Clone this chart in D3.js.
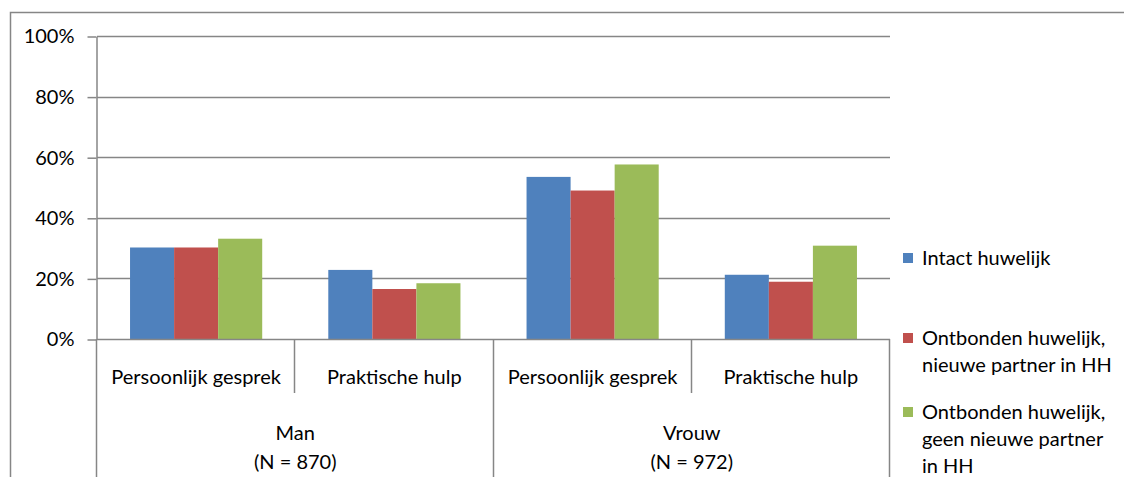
<!DOCTYPE html>
<html>
<head>
  <meta charset="utf-8">
  <title>Persoonlijk gesprek / Praktische hulp</title>
  <style>
    body {
      margin: 0;
      padding: 0;
      background: white;
      font-family: Lato, "Open Sans", sans-serif;
    }
    .grid line, .frame, .catline {
      stroke: #868686;
      stroke-width: 1.5;
      fill: none;
    }
    .axis path, .axis line {
      stroke: #868686;
      stroke-width: 1.5;
    }
    .axis text, .label, .legend text {
      fill: #000;
      font-size: 20px;
    }
  </style>
</head>
<body>
  <div id="chart"></div>

  <script src="https://d3js.org/d3.v7.min.js"></script>
  <script>

  // ####### DATA #######
  var genders = ["Man", "Vrouw"]
  var genderN = ["(N = 870)", "(N = 972)"]
  var helpTypes = ["Persoonlijk gesprek", "Praktische hulp"]
  var seriesNames = ["Intact huwelijk",
                     "Ontbonden huwelijk, nieuwe partner in HH",
                     "Ontbonden huwelijk, geen nieuwe partner in HH"]
  var legendLines = [["Intact huwelijk"],
                     ["Ontbonden huwelijk,", "nieuwe partner in HH"],
                     ["Ontbonden huwelijk,", "geen nieuwe partner", "in HH"]]
  // order: Man-gesprek, Man-hulp, Vrouw-gesprek, Vrouw-hulp
  var intact = [0.302, 0.228, 0.535, 0.212]
  var nieuwePartner = [0.302, 0.165, 0.490, 0.189]
  var geenPartner = [0.331, 0.184, 0.576, 0.308]
  var yTicks = [0, 0.2, 0.4, 0.6, 0.8, 1]
  var colors = ["#4F81BD", "#C0504D", "#9BBB59"]

  var seriesValues = [intact, nieuwePartner, geenPartner]

  var width = 1124,
      height = 477

  var svg = d3.select("#chart")
      .append("svg")
      .attr("width", width)
      .attr("height", height)

  // ####### OUTER CHART FRAME (runs off the picture right & bottom) #######
  svg.append("path")
      .attr("class", "frame")
      .attr("d", "M10.5," + (height + 5) + "V12.5H" + (width + 5))

  // ####### SCALES #######
  var cats = []
  genders.forEach(function (g) {
    helpTypes.forEach(function (h) { cats.push(g + "|" + h) })
  })

  var x0 = d3.scaleBand()
      .domain(cats)
      .range([97, 890])

  var x1 = d3.scaleBand()
      .domain(d3.range(seriesNames.length))
      .range([0, x0.bandwidth()])
      .paddingOuter(0.75)

  var y = d3.scaleLinear()
      .domain([0, 1])
      .range([339, 36])

  var xLeft = x0.range()[0],
      xRight = x0.range()[1]

  // ####### GRIDLINES #######
  svg.append("g")
      .attr("class", "grid")
      .selectAll("line")
      .data(yTicks.slice(1))
      .enter().append("line")
      .attr("x1", xLeft)
      .attr("x2", xRight)
      .attr("y1", function (d) { return Math.round(y(d)) + 0.5 })
      .attr("y2", function (d) { return Math.round(y(d)) + 0.5 })

  // ####### BARS #######
  svg.append("g")
      .selectAll("g")
      .data(seriesValues)
      .enter().append("g")
      .attr("fill", function (d, i) { return colors[i] })
      .each(function (vals, si) {
        d3.select(this).selectAll("rect")
          .data(vals)
          .enter().append("rect")
          .attr("x", function (d, ci) { return x0(cats[ci]) + x1(si) })
          .attr("width", x1.bandwidth())
          .attr("y", function (d) { return y(d) })
          .attr("height", function (d) { return y(0) - y(d) })
      })

  // ####### Y AXIS #######
  svg.append("g")
      .attr("class", "axis")
      .attr("transform", "translate(" + (xLeft - 0.5) + ",0.5)")
      .call(d3.axisLeft(y)
        .tickValues(yTicks)
        .tickFormat(d3.format(".0%"))
        .tickSize(9)
        .tickPadding(13)
        .tickSizeOuter(0))
      .selectAll("text")
      .style("font-family", "Lato, sans-serif")

  // ####### CATEGORY AXIS (two levels) #######
  var catAxis = svg.append("g")

  catAxis.append("line")
      .attr("class", "catline")
      .attr("x1", xLeft)
      .attr("x2", xRight)
      .attr("y1", y(0) + 0.5)
      .attr("y2", y(0) + 0.5)

  // short separators between help types, long ones between genders
  var bounds = cats.map(function (c) { return x0(c) }).concat([xRight])
  catAxis.selectAll("line.sep")
      .data(bounds)
      .enter().append("line")
      .attr("class", "catline sep")
      .attr("x1", function (d) { return Math.round(d) - 0.5 })
      .attr("x2", function (d) { return Math.round(d) - 0.5 })
      .attr("y1", y(0))
      .attr("y2", function (d, i) { return i % 2 ? 393 : height + 5 })

  catAxis.selectAll("text.sub")
      .data(cats)
      .enter().append("text")
      .attr("class", "label sub")
      .attr("x", function (d) { return x0(d) + x0.bandwidth() / 2 })
      .attr("y", 377)
      .attr("dy", "0.35em")
      .attr("text-anchor", "middle")
      .text(function (d) { return d.split("|")[1] })

  var genderLabels = catAxis.selectAll("g.gender")
      .data(genders)
      .enter().append("g")
      .attr("class", "gender")

  genderLabels.append("text")
      .attr("class", "label")
      .attr("x", function (d) { return x0(d + "|" + helpTypes[1]) })
      .attr("y", 433)
      .attr("dy", "0.35em")
      .attr("text-anchor", "middle")
      .text(function (d) { return d })

  genderLabels.append("text")
      .attr("class", "label")
      .attr("x", function (d) { return x0(d + "|" + helpTypes[1]) })
      .attr("y", 462)
      .attr("dy", "0.35em")
      .attr("text-anchor", "middle")
      .text(function (d, i) { return genderN[i] })

  // ####### LEGEND #######
  var legendTop = [258, 338, 412]
  var legend = svg.append("g")
      .attr("class", "legend")
      .selectAll("g")
      .data(legendLines)
      .enter().append("g")
      .attr("transform", function (d, i) { return "translate(903," + legendTop[i] + ")" })

  legend.append("rect")
      .attr("x", 0)
      .attr("y", -5)
      .attr("width", 10)
      .attr("height", 10)
      .attr("fill", function (d, i) { return colors[i] })

  legend.selectAll("text")
      .data(function (d) { return d })
      .enter().append("text")
      .attr("x", 19)
      .attr("y", function (d, i) { return i * 27 })
      .attr("dy", "0.35em")
      .text(function (d) { return d })

  </script>
</body>
</html>
